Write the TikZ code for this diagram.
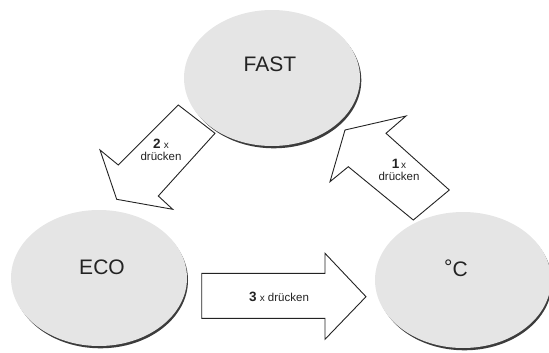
\documentclass[tikz,border=0pt]{standalone}
\usepackage{fontspec}
\setmainfont{Liberation Sans}
\usetikzlibrary{shapes.geometric}
\definecolor{discfill}{RGB}{229,229,229}
\definecolor{rimcol}{RGB}{60,60,60}
\definecolor{inkcol}{RGB}{35,35,35}
\tikzset{
  disc/.style={ellipse, fill=discfill, inner sep=0pt, minimum width=176pt, minimum height=136pt},
  discrim/.style={ellipse, fill=rimcol, inner sep=0pt, minimum width=175pt, minimum height=136pt},
  bigtext/.style={font=\fontsize{21}{24}\selectfont, text=inkcol},
  blockarrow/.style={draw=inkcol, fill=white, line width=0.9pt, line join=miter},
  smalltext/.style={font=\fontsize{11.5}{12}\selectfont, text=inkcol, align=center, inner sep=0pt},
}
\newcommand{\bignum}[1]{{\fontsize{13.5}{13.5}\selectfont\bfseries #1}}
\newcommand{\smallx}{{\fontsize{10}{10}\selectfont x}}
\begin{document}
\begin{tikzpicture}[x=1pt,y=-1pt]
\useasboundingbox (0,0) rectangle (549,353);
% shadows / rims
\node[discrim] (fastrim) at (273.8,80.3) {};
\node[discrim] (ecorim) at (100.5,280.3) {};
\node[discrim] (cdegrim) at (464.5,282.3) {};
% discs
\node[disc] (fast) at (272,78) {};
\node[disc] (eco) at (99,278) {};
\node[disc] (cdeg) at (463,280) {};
\node[bigtext] (fasttxt) at (270,64) {FAST};
\node[bigtext] (ecotxt) at (102,267) {ECO};
\node[bigtext] (cdegtxt) at (456,268) {\raisebox{0.2ex}{°}C};
% arrow 2 (FAST -> ECO)
\draw[blockarrow] (178.3,105) -- (215,133.3) -- (158.3,196) -- (172.7,209.3)
  -- (116.7,199.3) -- (100,150) -- (118.3,165) -- cycle;
% arrow 1 (°C -> FAST)
\draw[blockarrow] (345,130) -- (406,116) -- (386,133.3) -- (449.3,190)
  -- (413.3,220) -- (348.3,166.7) -- (330,181.7) -- cycle;
% arrow 3 (ECO -> °C)
\draw[blockarrow] (201.7,273.3) -- (325,273.3) -- (325,253.3) -- (366,296.7)
  -- (325,339.3) -- (325,318.3) -- (201.7,318.3) -- cycle;
% labels
\node[smalltext] (lab2) at (161,150) {\bignum{2} \smallx\\[0pt]drücken};
\node[smalltext] (lab1) at (399,170) {\bignum{1}\,\smallx\\[0pt]drücken};
\node[smalltext] (lab3) at (279,297) {\bignum{3} \smallx{} drücken};
\end{tikzpicture}
\end{document}
